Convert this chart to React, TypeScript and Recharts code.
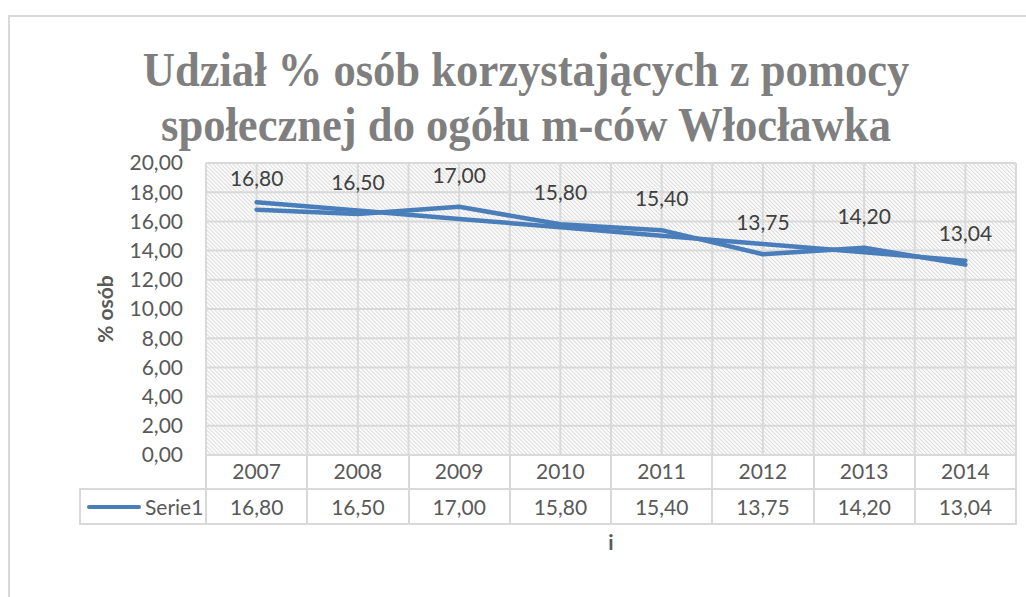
import React from 'react';
import { LineChart, Line, XAxis, YAxis, CartesianGrid, LabelList } from 'recharts';

const titleLines = ['Udział % osób korzystających z pomocy', 'społecznej do ogółu m-ców Włocławka'];
const yAxisTitle = '% osób';
const xAxisTitle = 'i';
const seriesName = 'Serie1';
const years = ['2007', '2008', '2009', '2010', '2011', '2012', '2013', '2014'];
const values = [16.8, 16.5, 17.0, 15.8, 15.4, 13.75, 14.2, 13.04];
const trendValues = [17.31, 16.74, 16.17, 15.6, 15.02, 14.45, 13.88, 13.31];
const yTicks = [0, 2, 4, 6, 8, 10, 12, 14, 16, 18, 20];

const data = years.map((year, i) => ({ year, value: values[i], trend: trendValues[i] }));
const fmt = (v: number) => Number(v).toFixed(2).replace('.', ',');

const W = 1026;
const H = 597;
const PL = 206;
const PR = 1016;
const PT = 163;
const PB = 455;
const ROW1 = 489;
const ROW2 = 524;
const LEG_L = 80;
const BLUE = '#4a7ebb';
const GRID = '#d9d9d9';
const TXT = '#595959';
const FONT = 'Lato, "Open Sans", sans-serif';
const FS = 21;

export default function App() {
  const colW = (PR - PL) / years.length;
  const line = (style: React.CSSProperties, key: string) => (
    <div key={key} style={{ position: 'absolute', background: GRID, ...style }} />
  );
  const hLines = [
    line({ left: PL, top: PB - 1, width: PR - PL + 1, height: 2 }, 'h0'),
    line({ left: LEG_L, top: ROW1 - 1, width: PR - LEG_L + 1, height: 2 }, 'h1'),
    line({ left: LEG_L, top: ROW2 - 1, width: PR - LEG_L + 1, height: 2 }, 'h2'),
    line({ left: LEG_L - 1, top: ROW1 - 1, width: 2, height: ROW2 - ROW1 + 2 }, 'v-leg'),
  ];
  const vLines = years.concat(['end']).map((_, i) =>
    line({ left: PL + i * colW - 1, top: PB - 1, width: 2, height: ROW2 - PB + 2 }, 'v' + i)
  );
  return (
    <div style={{ position: 'absolute', left: 0, top: 0, width: W, height: H, overflow: 'hidden', background: '#fff', fontFamily: FONT }}>
      <div style={{ position: 'absolute', left: 8, top: 15, width: W + 20, height: H + 20, border: `2px solid ${GRID}`, boxSizing: 'border-box' }} />
      <div style={{ position: 'absolute', left: 0, width: 1052, top: 42, textAlign: 'center', color: '#7f7f7f', fontFamily: '"Liberation Serif", serif', fontWeight: 700, fontSize: 49, lineHeight: '55px', transform: 'scaleX(0.91)', transformOrigin: '526px 0' }}>
        {titleLines.map((t) => (
          <div key={t} style={{ whiteSpace: 'nowrap', height: 55 }}>{t}</div>
        ))}
      </div>
      <div style={{ position: 'absolute', left: 0, top: 0 }}>
        <LineChart width={W} height={H} data={data} margin={{ top: PT, right: W - PR, bottom: H - PB - 40, left: 0 }}>
          <defs>
            <pattern id="hatch" width="2.83" height="8" patternUnits="userSpaceOnUse" patternTransform="rotate(-45)">
              <rect width="2.83" height="8" fill="#ffffff" />
              <line x1="0.6" y1="0" x2="0.6" y2="8" stroke="#d8d8d8" strokeWidth="1" />
            </pattern>
          </defs>
          <CartesianGrid
            stroke={GRID}
            strokeWidth={2}
            fill="url(#hatch)"
            fillOpacity={1}
            verticalCoordinatesGenerator={({ offset }: any) =>
              Array.from({ length: years.length * 2 + 1 }, (_, i) => offset.left + (i * offset.width) / (years.length * 2))
            }
          />
          <XAxis
            dataKey="year"
            scale="band"
            height={40}
            axisLine={false}
            tickLine={false}
            tickSize={0}
            tickMargin={9}
            interval={0}
            tick={{ fill: TXT, fontSize: FS, fontFamily: FONT }}
          />
          <YAxis
            width={PL}
            domain={[0, 20]}
            ticks={yTicks}
            interval={0}
            axisLine={false}
            tickLine={false}
            tickSize={0}
            tickMargin={23}
            tickFormatter={fmt}
            tick={{ fill: TXT, fontSize: FS, fontFamily: FONT }}
          />
          <Line
            dataKey="trend"
            type="linear"
            stroke={BLUE}
            strokeWidth={4.5}
            strokeLinecap="round"
            dot={false}
            activeDot={false}
            isAnimationActive={false}
          />
          <Line
            dataKey="value"
            type="linear"
            stroke={BLUE}
            strokeWidth={4.5}
            strokeLinecap="round"
            strokeLinejoin="round"
            dot={false}
            activeDot={false}
            isAnimationActive={false}
          >
            <LabelList dataKey="value" position="top" offset={24} formatter={fmt} fill="#404040" fontSize={FS} fontFamily={FONT} />
          </Line>
        </LineChart>
      </div>
      {hLines}
      {vLines}
      <div style={{ position: 'absolute', left: LEG_L, top: ROW1, width: PL - LEG_L, height: ROW2 - ROW1, display: 'flex', alignItems: 'center' }}>
        <div style={{ marginLeft: 7, width: 54, height: 4, borderRadius: 2, background: BLUE }} />
        <span style={{ marginLeft: 4, color: TXT, fontSize: FS, whiteSpace: 'nowrap' }}>{seriesName}</span>
      </div>
      {values.map((v, i) => (
        <div key={i} style={{ position: 'absolute', left: PL + i * colW, top: ROW1, width: colW, height: ROW2 - ROW1, display: 'flex', alignItems: 'center', justifyContent: 'center', color: TXT, fontSize: FS }}>
          {fmt(v)}
        </div>
      ))}
      <div style={{ position: 'absolute', left: (PL + PR) / 2 - 20, width: 40, top: 529, textAlign: 'center', color: TXT, fontWeight: 700, fontSize: FS }}>{xAxisTitle}</div>
      <div style={{ position: 'absolute', left: 105 - 60, top: 309 - 13, width: 120, height: 26, textAlign: 'center', lineHeight: '26px', transform: 'rotate(-90deg)', color: TXT, fontWeight: 700, fontSize: FS }}>{yAxisTitle}</div>
    </div>
  );
}
